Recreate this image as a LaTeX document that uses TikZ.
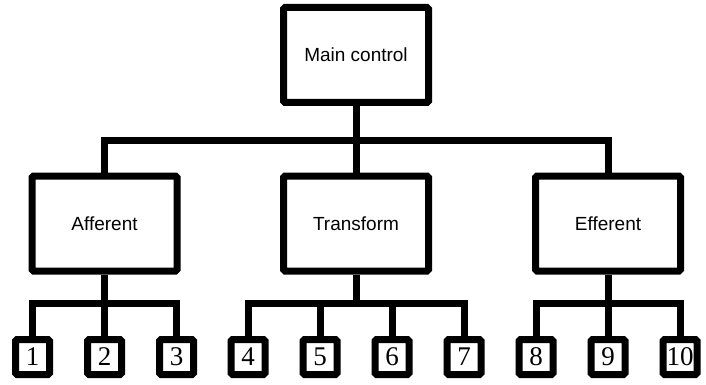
\documentclass[tikz,border=0pt]{standalone}
\usepackage{fontspec}
\setmainfont{Liberation Sans}
\newfontfamily\digitfont{Liberation Serif}
\begin{document}
\begin{tikzpicture}[x=1pt,y=-1pt,
  bigbox/.style={draw=black,line width=7pt,minimum width=145pt,minimum height=95pt,inner sep=0pt,rounded corners=1.5pt,font=\fontsize{19}{22}\selectfont},
  leafbox/.style={draw=black,line width=7pt,minimum width=34pt,minimum height=35pt,inner sep=0pt,rounded corners=1.5pt,font=\digitfont\fontsize{27}{29}\selectfont},
  conn/.style={line width=7pt}]
\useasboundingbox (0,0) rectangle (706,385);
\node[bigbox] (main) at (356,55) {Main control};
\node[bigbox] (aff) at (104.5,223.5) {Afferent};
\node[bigbox] (tra) at (356,223.5) {Transform};
\node[bigbox] (eff) at (608,223.5) {Efferent};
\coordinate (b0) at (356,140);
\draw[conn] (main.south) -- (b0);
\draw[conn] (aff.north) |- (b0) -| (eff.north);
\draw[conn] (tra.north) -- (b0);
% leaves
\foreach \n/\x in {1/32.5,2/104.5,3/176.5,4/248,5/320,6/392,7/464,8/536,9/608,10/680}{
  \node[leafbox] (l\n) at (\x,357) {\n};
}
\coordinate (ba) at (104.5,303);
\coordinate (bt) at (356,303);
\coordinate (be) at (608,303);
\draw[conn] (aff.south) -- (ba);
\draw[conn] (l1.north) |- (ba) -| (l3.north);
\draw[conn] (l2.north) -- (ba);
\draw[conn] (tra.south) -- (bt);
\draw[conn] (l4.north) |- (bt) -| (l7.north);
\draw[conn] (l5.north) |- (bt);
\draw[conn] (l6.north) |- (bt);
\draw[conn] (eff.south) -- (be);
\draw[conn] (l8.north) |- (be) -| (l10.north);
\draw[conn] (l9.north) -- (be);
\end{tikzpicture}
\end{document}
